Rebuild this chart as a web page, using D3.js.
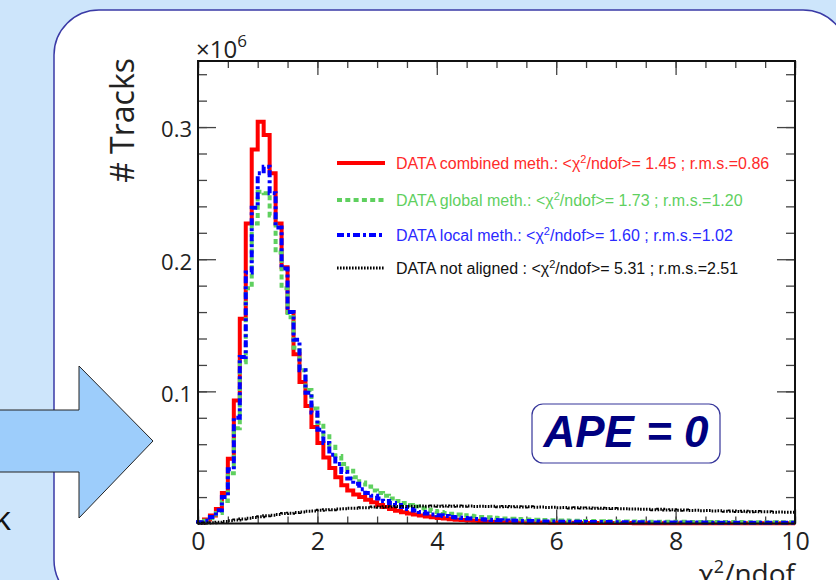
<!DOCTYPE html>
<html>
<head>
<meta charset="utf-8">
<script src="https://cdn.jsdelivr.net/npm/d3@7"></script>
<style>
body { margin: 0; background: #cde5fb; }
svg { display: block; }
</style>
</head>
<body>
<div id="chart"></div>
<script>
// chi2/ndof of tracks, 100 bins of width 0.1 between 0 and 10
// bin contents are in thousands of tracks (axis is in units of 10^6)
const binWidth = 0.1;

const combinedMeth = [
    1, 3, 6, 11, 23, 49, 93, 155, 227, 283,
    304, 294, 265, 227, 194, 160, 128, 107, 89, 73,
    61, 50, 42, 35, 29, 25, 22, 20, 18, 16,
    14, 12.5, 11, 9.7, 8.6, 7.6, 6.8, 6.0, 5.3, 4.7,
    4.2, 3.7, 3.3, 2.9, 2.6, 2.3, 2.0, 1.8, 1.6, 1.4,
    1.3, 1.2, 1.1, 1.0, 0.9, 0.85, 0.8, 0.75, 0.7, 0.65,
    0.6, 0.55, 0.5, 0.5, 0.45, 0.45, 0.4, 0.4, 0.35, 0.35,
    0.3, 0.3, 0.3, 0.25, 0.25, 0.25, 0.2, 0.2, 0.2, 0.2,
    0.2, 0.15, 0.15, 0.15, 0.15, 0.15, 0.1, 0.1, 0.1, 0.1,
    0.1, 0.1, 0.1, 0.1, 0.1, 0.1, 0.1, 0.1, 0.1, 0.1
];

const globalMeth = [
    1, 2, 4, 8, 17, 38, 72, 122, 178, 227,
    251, 250, 233, 205, 178, 156, 133, 116, 101, 87,
    76, 66, 58, 51, 45, 40, 35, 31, 28, 25,
    23, 21, 19, 17, 15.5, 14, 12.8, 11.6, 10.5, 9.5,
    8.7, 8.0, 7.4, 6.8, 6.3, 5.8, 5.4, 5.0, 4.7, 4.4,
    4.1, 3.8, 3.6, 3.4, 3.2, 3.0, 2.8, 2.7, 2.6, 2.4,
    2.3, 2.2, 2.1, 2.0, 1.95, 1.9, 1.8, 1.75, 1.7, 1.65,
    1.6, 1.55, 1.5, 1.5, 1.45, 1.4, 1.4, 1.35, 1.3, 1.3,
    1.25, 1.25, 1.2, 1.2, 1.15, 1.15, 1.1, 1.1, 1.1, 1.05,
    1.05, 1.0, 1.0, 1.0, 0.95, 0.95, 0.95, 0.9, 0.9, 0.9
];

const localMeth = [
    1, 2, 5, 10, 20, 41, 80, 126, 190, 239,
    265, 270, 250, 224, 193, 160, 139, 116, 99, 84,
    71, 61, 52, 45, 39, 34, 30, 26, 23, 21,
    19, 17, 15.5, 14, 12.5, 11, 9.8, 8.7, 7.6, 6.8,
    6.2, 5.6, 5.0, 4.6, 4.2, 3.8, 3.5, 3.2, 2.9, 2.7,
    2.5, 2.3, 2.2, 2.0, 1.9, 1.8, 1.7, 1.6, 1.5, 1.45,
    1.4, 1.35, 1.3, 1.25, 1.2, 1.15, 1.1, 1.1, 1.05, 1.0,
    1.0, 0.95, 0.95, 0.9, 0.9, 0.85, 0.85, 0.8, 0.8, 0.8,
    0.75, 0.75, 0.7, 0.7, 0.7, 0.65, 0.65, 0.65, 0.6, 0.6,
    0.6, 0.6, 0.55, 0.55, 0.55, 0.5, 0.5, 0.5, 0.5, 0.5
];

const notAligned = [
    0.1, 0.3, 0.6, 1.0, 1.6, 2.1, 2.6, 3.4, 4.0, 4.5,
    5.2, 5.9, 6.3, 6.9, 7.5, 7.8, 8.4, 8.7, 9.3, 9.5,
    10.0, 10.4, 10.5, 11.0, 11.1, 11.6, 11.6, 12.0, 12.0, 12.4,
    12.3, 12.7, 12.6, 12.9, 12.8, 13.1, 12.9, 13.2, 13.0, 13.3,
    13.1, 13.3, 13.0, 13.2, 13.0, 13.2, 12.9, 13.1, 12.8, 13.0,
    12.7, 12.9, 12.6, 12.7, 12.5, 12.6, 12.3, 12.4, 12.2, 12.3,
    12.0, 12.1, 11.8, 11.9, 11.7, 11.8, 11.5, 11.6, 11.3, 11.4,
    11.1, 11.2, 10.9, 11.0, 10.7, 10.8, 10.5, 10.7, 10.3, 10.4,
    10.1, 10.2, 9.9, 10.0, 9.7, 9.8, 9.5, 9.6, 9.3, 9.4,
    9.1, 9.2, 8.9, 9.0, 8.8, 8.8, 8.6, 8.7, 8.5, 8.5
];

// legend content
const seriesNames = ["DATA combined meth.:", "DATA global meth.:", "DATA local meth.:", "DATA not aligned :"];
const seriesMeans = [1.45, 1.73, 1.60, 5.31];
const seriesRms = [0.86, 1.20, 1.02, 2.51];

// tick labels
const xTickLabels = [0, 2, 4, 6, 8, 10];
const yTickLabels = [0.1, 0.2, 0.3];

// styles for each series
const seriesStyle = [
    { color: "#ff0000", text: "#ff2a2a", width: 4, dash: null },
    { color: "#5fd05f", text: "#5fd05f", width: 4, dash: "5,3.3" },
    { color: "#0000ff", text: "#2a2aff", width: 4, dash: "7,3,3,3" },
    { color: "#000000", text: "#111111", width: 3, dash: "1.6,1.4" }
];

const series = [combinedMeth, globalMeth, localMeth, notAligned].map((values, i) => ({
    values,
    name: seriesNames[i],
    mean: seriesMeans[i],
    rms: seriesRms[i],
    ...seriesStyle[i]
}));

const width = 836;
const height = 580;
const plot = { left: 198, right: 795, top: 61, bottom: 523.5 };

const svg = d3.select("#chart")
    .append("svg")
    .attr("width", width)
    .attr("height", height)
    .style("font-family", "'Open Sans', sans-serif");

// slide background and rounded white panel
svg.append("rect")
    .attr("width", width)
    .attr("height", height)
    .attr("fill", "#cde5fb");

svg.append("rect")
    .attr("x", 54)
    .attr("y", 10)
    .attr("width", 794)
    .attr("height", 595)
    .attr("rx", 45)
    .attr("fill", "white")
    .attr("stroke", "#3a3aa6")
    .attr("stroke-width", 1.5);

// big arrow coming from the left
svg.append("path")
    .attr("d", "M-5,410 L79,410 L79,366 L153,441 L79,518 L79,472 L-5,472 Z")
    .attr("fill", "#9dcdfb")
    .attr("stroke", "#222")
    .attr("stroke-width", 1);

svg.append("text")
    .attr("x", 11)
    .attr("y", 530)
    .attr("text-anchor", "end")
    .style("font-size", "33px")
    .style("fill", "#111")
    .text("k");

// scales
const x = d3.scaleLinear().domain([0, 10]).range([plot.left, plot.right]);
const y = d3.scaleLinear().domain([0, 0.35]).range([plot.bottom, plot.top]);

// axes: ticks on all four sides pointing inside the frame
function styleTicks(g) {
    g.select(".domain").remove();
    g.selectAll(".tick line").attr("stroke", "#444").attr("stroke-width", 1.3);
}

const xMinor = d3.range(0, 10.001, 0.5);
const yMinor = d3.range(0, 0.35, 0.02);

svg.append("g")
    .attr("transform", `translate(0,${plot.bottom})`)
    .call(d3.axisBottom(x).tickValues(xMinor).tickSize(-7).tickFormat(""))
    .call(styleTicks);

svg.append("g")
    .attr("transform", `translate(0,${plot.bottom})`)
    .call(d3.axisBottom(x).tickValues(xTickLabels).tickSize(-14).tickPadding(8.5).tickFormat(d3.format("d")))
    .call(styleTicks)
    .call(g => g.selectAll("text")
        .attr("font-family", "'Open Sans', sans-serif")
        .attr("font-size", 25)
        .attr("fill", "#222"));

svg.append("g")
    .attr("transform", `translate(0,${plot.top})`)
    .call(d3.axisTop(x).tickValues(xMinor).tickSize(-7).tickFormat(""))
    .call(styleTicks);

svg.append("g")
    .attr("transform", `translate(0,${plot.top})`)
    .call(d3.axisTop(x).tickValues(xTickLabels).tickSize(-14).tickFormat(""))
    .call(styleTicks);

svg.append("g")
    .attr("transform", `translate(${plot.left},0)`)
    .call(d3.axisLeft(y).tickValues(yMinor).tickSize(-9).tickFormat(""))
    .call(styleTicks);

svg.append("g")
    .attr("transform", `translate(${plot.left},0)`)
    .call(d3.axisLeft(y).tickValues(yTickLabels).tickSize(-18).tickPadding(6).tickFormat(d3.format(".1f")))
    .call(styleTicks)
    .call(g => g.selectAll("text")
        .attr("font-family", "'Open Sans', sans-serif")
        .attr("font-size", 22)
        .attr("dy", "0.45em")
        .attr("fill", "#222"));

svg.append("g")
    .attr("transform", `translate(${plot.right},0)`)
    .call(d3.axisRight(y).tickValues(yMinor).tickSize(-9).tickFormat(""))
    .call(styleTicks);

svg.append("g")
    .attr("transform", `translate(${plot.right},0)`)
    .call(d3.axisRight(y).tickValues(yTickLabels).tickSize(-18).tickFormat(""))
    .call(styleTicks);

// histogram outlines
const line = d3.line()
    .x(d => x(d[0]))
    .y(d => y(d[1] / 1000))
    .curve(d3.curveStepAfter);

function histPoints(values) {
    const pts = [[0, 0]];
    values.forEach((v, i) => pts.push([i * binWidth, v]));
    pts.push([values.length * binWidth, values[values.length - 1]]);
    return pts;
}

svg.selectAll(".hist")
    .data(series)
    .enter()
    .append("path")
    .attr("class", "hist")
    .attr("d", d => line(histPoints(d.values)))
    .attr("fill", "none")
    .attr("stroke", d => d.color)
    .attr("stroke-width", d => d.width)
    .attr("stroke-dasharray", d => d.dash);

// frame
svg.append("rect")
    .attr("x", plot.left)
    .attr("y", plot.top)
    .attr("width", plot.right - plot.left)
    .attr("height", plot.bottom - plot.top)
    .attr("fill", "none")
    .attr("stroke", "#111")
    .attr("stroke-width", 2);

// exponent label
const expo = svg.append("text")
    .attr("x", 196)
    .attr("y", 58)
    .style("font-size", "24px")
    .style("fill", "#222");
expo.append("tspan").text("×10");
expo.append("tspan").attr("dy", -11).style("font-size", "17px").text("6");

// axis titles
svg.append("text")
    .attr("transform", "translate(134,58) rotate(-90)")
    .attr("text-anchor", "end")
    .style("font-size", "32px")
    .style("fill", "#222")
    .text("# Tracks");

const xTitle = svg.append("text")
    .attr("x", plot.right)
    .attr("y", 584)
    .attr("text-anchor", "end")
    .style("font-size", "28px")
    .style("fill", "#222");
xTitle.append("tspan").text("χ");
xTitle.append("tspan").attr("dy", -11).style("font-size", "18px").text("2");
xTitle.append("tspan").attr("dy", 11).text("/ndof");

// legend
const legendRows = [163, 200, 235, 268];
const legend = svg.selectAll(".legend")
    .data(series)
    .enter()
    .append("g")
    .attr("class", "legend")
    .attr("transform", (d, i) => `translate(337,${legendRows[i]})`);

legend.append("line")
    .attr("x1", 0)
    .attr("x2", 48)
    .attr("stroke", d => d.color)
    .attr("stroke-width", d => d.width)
    .attr("stroke-dasharray", d => d.dash);

const legendText = legend.append("text")
    .attr("x", 59)
    .attr("y", 6)
    .style("font-family", "'Liberation Sans', Arial, sans-serif")
    .style("font-size", "16px")
    .style("fill", d => d.text);
legendText.append("tspan").text(d => `${d.name} <χ`);
legendText.append("tspan").attr("dy", -6).style("font-size", "11px").text("2");
legendText.append("tspan").attr("dy", 6).text(d => `/ndof>= ${d.mean.toFixed(2)} ; r.m.s.=${d.rms.toFixed(2)}`);

// APE label box
svg.append("rect")
    .attr("x", 532)
    .attr("y", 404)
    .attr("width", 188)
    .attr("height", 59)
    .attr("rx", 11)
    .attr("fill", "white")
    .attr("stroke", "#35359a")
    .attr("stroke-width", 1.2);

svg.append("text")
    .attr("x", 626)
    .attr("y", 447)
    .attr("text-anchor", "middle")
    .style("font-family", "'Liberation Sans', Arial, sans-serif")
    .style("font-size", "44px")
    .style("font-weight", "bold")
    .style("font-style", "italic")
    .style("fill", "#000080")
    .text("APE = 0");
</script>
</body>
</html>
